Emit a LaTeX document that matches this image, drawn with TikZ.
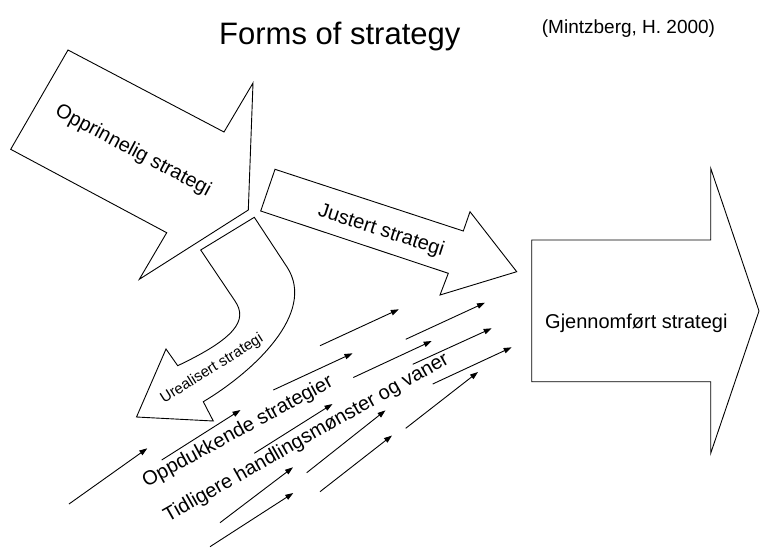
\documentclass[tikz,border=0pt]{standalone}
\usepackage{fontspec}
\setmainfont{Liberation Sans}
\usetikzlibrary{arrows.meta}
\begin{document}
\begin{tikzpicture}[x=1pt,y=-1pt,
  bigarrow/.style={draw=black,line width=0.9pt,line join=miter,fill=white},
  flow/.style={draw=black,line width=0.9pt,-{Triangle[length=8pt,width=5.5pt]}},
  lbl/.style={inner sep=0pt,font=\fontsize{20}{24}\selectfont}]
\useasboundingbox (0,0) rectangle (760,547);

% title and reference
\node[anchor=base west,inner sep=0pt,font=\fontsize{31}{36}\selectfont] (title) at (219,44.3) {Forms of strategy};
\node[anchor=base west,inner sep=0pt,font=\fontsize{19}{22}\selectfont] (ref) at (541.7,33.3) {(Mintzberg, H. 2000)};

% Opprinnelig strategi
\draw[bigarrow] (68,50) -- (224,132) -- (253,83) -- (248.3,210) -- (139.3,279.3) -- (166.7,232.7) -- (10.7,149.3) -- cycle;
\node[lbl,rotate=-28] (opp) at (133,151) {Opprinnelig strategi};

% Justert strategi
\draw[bigarrow] (275,169.3) -- (463.3,231) -- (470,211.7) -- (516.7,271.7) -- (440,295) -- (448.3,273.3) -- (260.7,211) -- cycle;
\node[lbl,rotate=-18] (just) at (381,231) {Justert strategi};

% Urealisert strategi (curved)
\draw[bigarrow] (254.3,217.3) -- (200.7,250) -- (235,301)
  .. controls (248,320) and (236,338) .. (177.7,365.7)
  -- (166,349) -- (136.5,417) -- (213.3,421) -- (203.3,401.7)
  .. controls (253,372) and (317,313) .. (287,267) -- cycle;
\node[inner sep=0pt,font=\fontsize{15}{18}\selectfont,rotate=32] (ureal) at (212,369) {Urealisert strategi};

% Gjennomfort strategi
\draw[bigarrow] (531.7,240) -- (710.7,240) -- (710.7,168.3) -- (759,311) -- (710.7,453.3) -- (710.7,381.7) -- (531.7,381.7) -- cycle;
\node[lbl,anchor=base west] (gjen) at (545,328.3) {Gjennomført strategi};

% small flow arrows
\foreach \i/\sx/\sy/\ex/\ey in {
  1/69/504/147.3/448.3,
  2/161.7/460/240.5/410,
  3/273.3/390/352.5/353.3,
  4/320/345.7/398.8/309.3,
  5/405.7/339.3/485/302.7,
  6/254.3/453.3/332.5/404,
  7/353.3/377.5/431.7/341,
  8/412.7/364.3/491.7/328.3,
  9/432.7/384/511.7/347.3,
  10/220/522.7/293/467.3,
  11/210/546.7/293.3/493,
  12/306.7/472.7/385.5/410.3,
  13/320/491.7/392/435.5,
  14/405.7/428.3/478/372}{
  \coordinate (s\i) at (\sx,\sy);
  \coordinate (e\i) at (\ex,\ey);
  \draw[flow] (s\i) -- (e\i);
}

% labels of flows
\node[lbl,rotate=28.5] (oppd) at (238,432) {Oppdukkende strategier};
\node[lbl,rotate=29.5] (tidl) at (306.5,438) {Tidligere handlingsmønster og vaner};
\end{tikzpicture}
\end{document}
